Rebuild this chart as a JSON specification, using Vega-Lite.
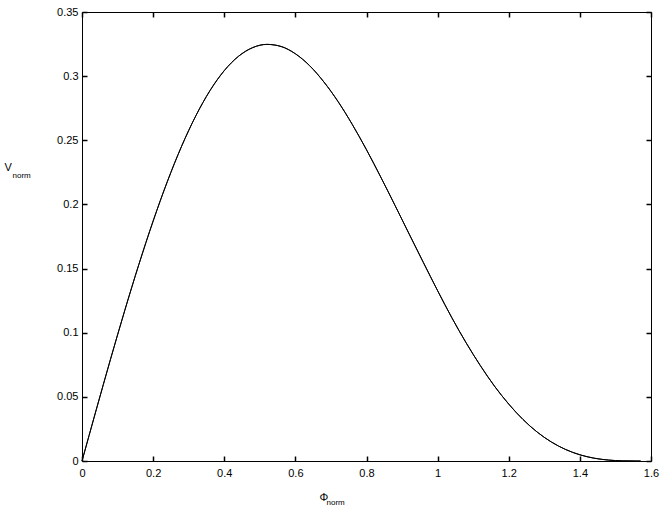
{
  "$schema": "https://vega.github.io/schema/vega-lite/v6.json",
  "autosize": "none",
  "width": 569,
  "height": 449,
  "padding": {"left": 82, "top": 12, "right": 13, "bottom": 55},
  "background": "white",
  "config": {
    "view": {"stroke": null},
    "font": "Liberation Sans",
    "axis": {
      "grid": false,
      "domainColor": "#000000",
      "domainWidth": 1,
      "tickColor": "#000000",
      "tickSize": -5,
      "tickWidth": 1.5,
      "labelFont": "Liberation Sans",
      "labelFontSize": 11,
      "labelColor": "#000000",
      "titleFont": "Liberation Sans",
      "titleFontWeight": "normal",
      "titleColor": "#000000"
    }
  },
  "data": {
    "values": [
      {"phi": 0.00, "v": 0.0},
      {"phi": 0.04, "v": 0.03989},
      {"phi": 0.08, "v": 0.07915},
      {"phi": 0.12, "v": 0.11715},
      {"phi": 0.16, "v": 0.15329},
      {"phi": 0.20, "v": 0.18703},
      {"phi": 0.24, "v": 0.21784},
      {"phi": 0.28, "v": 0.24531},
      {"phi": 0.32, "v": 0.26905},
      {"phi": 0.36, "v": 0.28878},
      {"phi": 0.40, "v": 0.30429},
      {"phi": 0.44, "v": 0.31545},
      {"phi": 0.48, "v": 0.32225},
      {"phi": 0.52, "v": 0.32476},
      {"phi": 0.56, "v": 0.32310},
      {"phi": 0.60, "v": 0.31744},
      {"phi": 0.64, "v": 0.30818},
      {"phi": 0.68, "v": 0.29553},
      {"phi": 0.72, "v": 0.28019},
      {"phi": 0.76, "v": 0.26236},
      {"phi": 0.80, "v": 0.24260},
      {"phi": 0.84, "v": 0.22138},
      {"phi": 0.88, "v": 0.19934},
      {"phi": 0.92, "v": 0.17691},
      {"phi": 0.96, "v": 0.15469},
      {"phi": 1.00, "v": 0.13273},
      {"phi": 1.04, "v": 0.11167},
      {"phi": 1.08, "v": 0.09219},
      {"phi": 1.12, "v": 0.07441},
      {"phi": 1.16, "v": 0.05832},
      {"phi": 1.20, "v": 0.04435},
      {"phi": 1.24, "v": 0.03238},
      {"phi": 1.28, "v": 0.02254},
      {"phi": 1.32, "v": 0.01478},
      {"phi": 1.36, "v": 0.00896},
      {"phi": 1.40, "v": 0.00484},
      {"phi": 1.44, "v": 0.00220},
      {"phi": 1.48, "v": 0.00074},
      {"phi": 1.52, "v": 0.00013},
      {"phi": 1.56, "v": 0.0},
      {"phi": 1.5708, "v": 0.0}
    ]
  },
  "layer": [
    {
      "mark": {"type": "line", "color": "#000000", "strokeWidth": 1, "interpolate": "monotone"},
      "encoding": {
        "x": {
          "field": "phi", "type": "quantitative",
          "scale": {"domain": [0, 1.6], "nice": false, "zero": false},
          "axis": {
            "orient": "bottom",
            "values": [0, 0.2, 0.4, 0.6, 0.8, 1, 1.2, 1.4, 1.6],
            "format": "~g",
            "labelPadding": 11,
            "labelFlush": false,
            "title": "Φ",
            "titleFontSize": 11,
            "titleAngle": 0,
            "titleAlign": "left",
            "titleBaseline": "alphabetic",
            "titleX": 237,
            "titleY": 39
          }
        },
        "y": {
          "field": "v", "type": "quantitative",
          "scale": {"domain": [0, 0.35], "nice": false, "zero": false},
          "axis": {
            "orient": "left",
            "values": [0, 0.05, 0.1, 0.15, 0.2, 0.25, 0.3, 0.35],
            "format": "~g",
            "labelPadding": 9,
            "labelFlush": false,
            "title": "V",
            "titleFontSize": 11,
            "titleAngle": 0,
            "titleAlign": "left",
            "titleBaseline": "alphabetic",
            "titleX": -78,
            "titleY": 158
          }
        }
      }
    },
    {
      "mark": {"type": "line", "color": "#000000", "strokeWidth": 1, "interpolate": "monotone"},
      "encoding": {
        "x": {
          "field": "phi", "type": "quantitative",
          "axis": {
            "orient": "top",
            "values": [0, 0.2, 0.4, 0.6, 0.8, 1, 1.2, 1.4, 1.6],
            "labels": false,
            "title": null
          }
        },
        "y": {
          "field": "v", "type": "quantitative",
          "axis": {
            "orient": "right",
            "values": [0, 0.05, 0.1, 0.15, 0.2, 0.25, 0.3, 0.35],
            "labels": false,
            "title": null
          }
        }
      }
    },
    {
      "mark": {"type": "line", "opacity": 0},
      "encoding": {
        "x": {
          "field": "phi", "type": "quantitative",
          "axis": {
            "orient": "bottom",
            "domain": false,
            "ticks": false,
            "labels": false,
            "title": "norm",
            "titleFontSize": 8,
            "titleAngle": 0,
            "titleAlign": "left",
            "titleBaseline": "alphabetic",
            "titleX": 244,
            "titleY": 43
          }
        },
        "y": {
          "field": "v", "type": "quantitative",
          "axis": {
            "orient": "left",
            "domain": false,
            "ticks": false,
            "labels": false,
            "title": "norm",
            "titleFontSize": 8,
            "titleAngle": 0,
            "titleAlign": "left",
            "titleBaseline": "alphabetic",
            "titleX": -70,
            "titleY": 165
          }
        }
      }
    }
  ],
  "resolve": {"axis": {"x": "independent", "y": "independent"}}
}
